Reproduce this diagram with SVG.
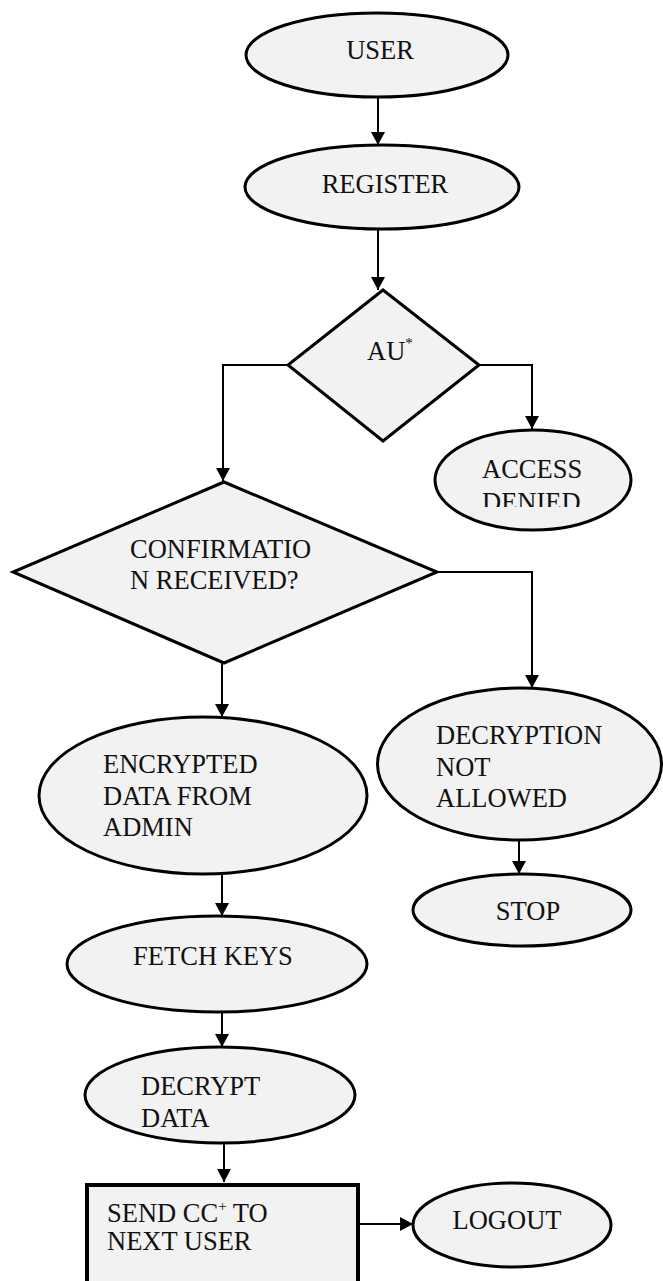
<svg xmlns="http://www.w3.org/2000/svg" width="663" height="1281" viewBox="0 0 663 1281">
  <style>
    .shape { fill: #f2f2f2; stroke: #000; stroke-width: 3; }
    .box { fill: #f2f2f2; stroke: #000; stroke-width: 4; }
    .label { font-family: "Liberation Serif", "Times New Roman", serif; font-size: 26.5px; fill: #111; }
    .sup { font-size: 15px; }
    .wire { fill: none; stroke: #000; stroke-width: 2; }
  </style>
  <defs>
    <marker id="arrow" markerUnits="userSpaceOnUse" markerWidth="14" markerHeight="14" refX="13" refY="7" orient="auto">
      <path d="M0,0 L13,7 L0,14 z" fill="#000"/>
    </marker>
    <clipPath id="deniedClip">
      <rect x="430" y="420" width="210" height="87"/>
    </clipPath>
  </defs>

  <!-- connectors -->
  <g id="connectors">
    <line class="wire" x1="378" y1="97" x2="378" y2="145" marker-end="url(#arrow)"/>
    <line class="wire" x1="378" y1="229" x2="378" y2="290" marker-end="url(#arrow)"/>
    <polyline class="wire" points="288,365 223,365 223,481" marker-end="url(#arrow)"/>
    <polyline class="wire" points="479,365 532,365 532,429" marker-end="url(#arrow)"/>
    <polyline class="wire" points="437,572 532,572 532,688" marker-end="url(#arrow)"/>
    <line class="wire" x1="519" y1="840" x2="519" y2="874" marker-end="url(#arrow)"/>
    <line class="wire" x1="222" y1="663" x2="222" y2="717" marker-end="url(#arrow)"/>
    <line class="wire" x1="222" y1="874" x2="222" y2="916" marker-end="url(#arrow)"/>
    <line class="wire" x1="222" y1="1012" x2="222" y2="1047" marker-end="url(#arrow)"/>
    <line class="wire" x1="224" y1="1143" x2="224" y2="1182" marker-end="url(#arrow)"/>
    <line class="wire" x1="358" y1="1224" x2="413" y2="1224" marker-end="url(#arrow)"/>
  </g>

  <g id="user">
    <ellipse class="shape" cx="377" cy="55" rx="131" ry="42"/>
    <text class="label" x="380" y="59" text-anchor="middle">USER</text>
  </g>

  <g id="register">
    <ellipse class="shape" cx="382" cy="187" rx="137" ry="42"/>
    <text class="label" x="385" y="193" text-anchor="middle">REGISTER</text>
  </g>

  <g id="au-check">
    <polygon class="shape" points="383,290 479,365 383,441 288,365"/>
    <text class="label" x="367" y="360">AU<tspan class="sup" dy="-12">*</tspan></text>
  </g>

  <g id="access-denied">
    <ellipse class="shape" cx="533" cy="480" rx="98" ry="50"/>
    <g clip-path="url(#deniedClip)">
      <text class="label" x="482" y="478">ACCESS</text>
      <text class="label" x="482" y="511">DENIED</text>
    </g>
  </g>

  <g id="confirmation">
    <polygon class="shape" points="224,482 437,572 224,663 13,572"/>
    <text class="label" x="130" y="558">CONFIRMATIO</text>
    <text class="label" x="130" y="589">N RECEIVED?</text>
  </g>

  <g id="decryption-not-allowed">
    <ellipse class="shape" cx="519.5" cy="764" rx="142" ry="76"/>
    <text class="label" x="436" y="744">DECRYPTION</text>
    <text class="label" x="436" y="776">NOT</text>
    <text class="label" x="436" y="807">ALLOWED</text>
  </g>

  <g id="stop">
    <ellipse class="shape" cx="522" cy="910" rx="109" ry="36"/>
    <text class="label" x="528" y="920" text-anchor="middle">STOP</text>
  </g>

  <g id="encrypted-data">
    <ellipse class="shape" cx="203" cy="795.5" rx="164" ry="78.5"/>
    <text class="label" x="103" y="773">ENCRYPTED</text>
    <text class="label" x="103" y="805">DATA FROM</text>
    <text class="label" x="103" y="836">ADMIN</text>
  </g>

  <g id="fetch-keys">
    <ellipse class="shape" cx="217" cy="964" rx="150" ry="48"/>
    <text class="label" x="213" y="965" text-anchor="middle">FETCH KEYS</text>
  </g>

  <g id="decrypt-data">
    <ellipse class="shape" cx="220" cy="1095" rx="135" ry="48"/>
    <text class="label" x="141" y="1095">DECRYPT</text>
    <text class="label" x="141" y="1127">DATA</text>
  </g>

  <g id="send-cc">
    <rect class="box" x="87" y="1185" width="271" height="110"/>
    <text class="label" x="107" y="1222">SEND CC<tspan class="sup" dy="-11">+</tspan><tspan dy="11"> TO</tspan></text>
    <text class="label" x="107" y="1250">NEXT USER</text>
  </g>

  <g id="logout">
    <ellipse class="shape" cx="512" cy="1225" rx="99" ry="42"/>
    <text class="label" x="507" y="1229" text-anchor="middle">LOGOUT</text>
  </g>
</svg>
